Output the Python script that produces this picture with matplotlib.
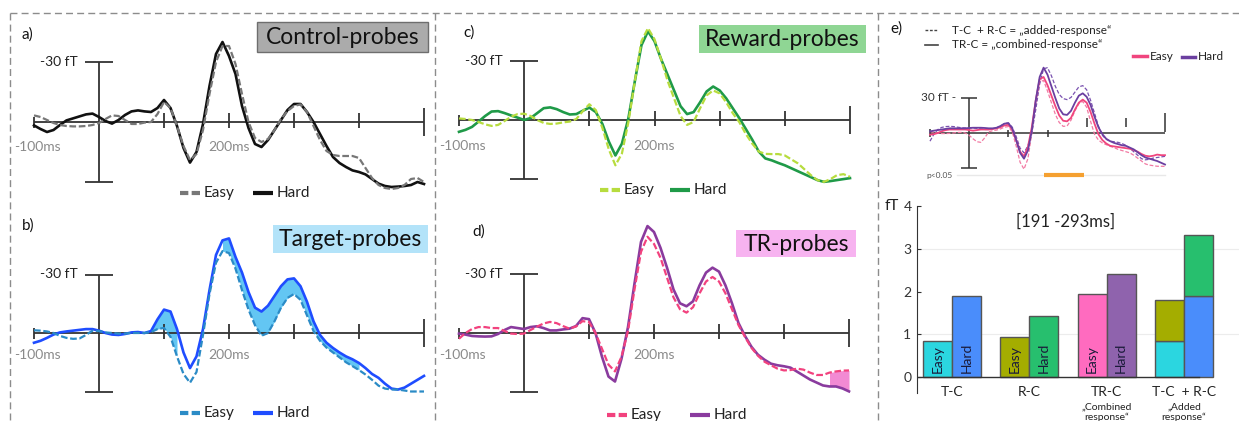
import numpy as np
import matplotlib.pyplot as plt
from matplotlib.patches import Rectangle

plt.rcParams['font.family'] = ['Lato', 'DejaVu Sans']

W, H = 1239, 421

# sample times of the averaged fields (ms)
t_ms = np.arange(-100, 501, 10)

# field amplitudes in fT, negative plotted upwards
ctrl_easy = [-3.3, -2.5, -1, 0.5, 1.5, 2, 2.2, 2.2, 2, 1.5,
             0.5, -1.5, -3.3, -3, -1, 1, 1, 0.3, 0, -4,
             -10, -7, 2, 12, 19, 16, 4, -14, -30, -38,
             -38, -29, -14, 0, 8, 10, 8.5, 4, -1.5, -5.5,
             -8, -8.8, -5, 2, 9, 14.5, 16.5, 17, 17, 17,
             18, 23, 28, 31.5, 33, 33.5, 33, 31.5, 28.5, 28,
             30]
ctrl_hard = [1.7, 3.5, 5, 4, 1.5, -0.8, -1.8, -2.8, -3.8, -4.2,
             -2.5, -0.5, 0.8, -1, -3.5, -5.3, -5.8, -5.3, -5, -7,
             -11, -7, 2, 13, 20.3, 15, 1, -18, -34, -40,
             -33, -24, -8, 3, 11, 12.5, 9, 4, -1, -6,
             -9, -9, -5, 0, 6, 12, 17.5, 20.5, 22.5, 24.2,
             25, 26.2, 28.5, 30.8, 32, 32.5, 32.3, 32, 31.5, 30,
             31]

tgt_easy = [-1.4, -1.2, -0.8, 0, 1.5, 2.5, 3, 2.8, 1, -1.2,
            -1, -0.3, 0, 0.3, 0.3, 0, 0, 0, -0.5, -2,
            -2.6, 2, 12, 21, 25.5, 20, 1, -20, -36, -42,
            -41, -33, -22, -12, -4, 1.4, 0, -6, -13, -18,
            -20, -17, -9, -1, 4, 7.5, 10, 12.5, 15, 17,
            19, 21.3, 24, 27, 28.5, 29, 29, 29.5, 30, 30,
            30]
tgt_hard = [5, 4, 2.5, 0.8, -0.3, -0.8, -1.2, -1.6, -2, -2,
            -1.2, 0, 0.8, 1, 0.5, -0.3, -0.5, 0, -1, -7,
            -12, -11, -2, 10, 18, 12, -2, -22, -40, -47.5,
            -48.5, -39, -31, -21, -13, -11, -14, -19, -24, -27.5,
            -28, -24, -16, -6, 1, 5, 7.7, 10, 12, 13.5,
            15.4, 18, 21, 23, 26, 28.5, 29, 28, 26, 24,
            22]

rew_easy = [-0.8, -0.5, 0, 1, 2.2, 3, 2.5, 0.5, -1.7, -3,
            -3.2, -2, 0, 1.5, 2, 1.8, 1.2, 0.8, -0.5, -4.5,
            -8, -5, 4, 15, 23, 17, 1, -20, -40, -46.6,
            -41, -31, -20, -11, -2, 2.5, 1, -6, -12.5, -15,
            -13.5, -9, -3.5, 1, 7, 12, 16, 17.2, 17.3, 17.3,
            18, 20, 22, 25, 28, 30.5, 31.4, 30, 28, 27.5,
            28.8]
rew_hard = [6, 5, 3.5, 0.8, -2, -4.3, -4.5, -3.5, -2.3, -1.2,
            0, -1, -3.5, -6, -6.4, -5.5, -4, -2.8, -3, -4.7,
            -6.3, -4, 2, 11, 18, 12, -1, -20, -38, -45,
            -40, -31, -23, -15, -7, -3, -4, -9, -14.5, -17,
            -15, -11, -6, -1, 4.5, 10, 16, 19.5, 20.5, 21.8,
            23, 24.5, 26, 27.5, 29, 30.5, 31.4, 31, 30.5, 30,
            29.5]

tr_easy = [2.9, 0, -2, -3, -3, -2.5, -2.5, -1, 0.3, 0.5,
           0.3, -1.5, -3.2, -4.8, -5.6, -5, -3.5, -2.2, -3.3, -6,
           -5.5, 0, 8, 16, 19.4, 12, -1, -22, -41, -48.6,
           -45, -38, -28, -18, -12, -10.3, -13, -20, -26, -28.3,
           -26, -20, -12, -4, 2, 7.5, 11.5, 14.5, 16.3, 18,
           18.9, 18.7, 18, 18.5, 20, 21.2, 21.2, 20, 19.4, 19,
           18.9]
tr_hard = [0.3, 0.8, 1.5, 1.7, 1.8, 1.7, 0.5, -1.5, -3, -2.5,
           -2, -3, -3.4, -2.5, -1.3, -1.3, -1.8, -2.2, -3.5, -7.5,
           -7, 0, 12, 22, 24.5, 13, -3, -25, -46, -54,
           -51, -43, -33, -22, -15, -13.5, -16, -24, -30.5, -33,
           -31, -24, -15, -5, 1.5, 7, 11, 13.5, 15.5, 16.3,
           16.8, 17.5, 19.5, 21.5, 23.5, 25, 26.5, 27, 27, 28,
           29.5]

# e) combined (TR-C) vs added (T-C + R-C) responses
comb_easy = [1.4, 1, 0, -1.5, -2.5, -3, -3, -3, -3, -3,
             -2.5, -2, -2.5, -3, -3, -3, -3.5, -4, -5, -6.5,
             -7, -3, 6, 16, 20, 12, -5, -28, -46, -48,
             -41, -32, -23, -15, -10.5, -10, -13, -20, -26, -28.6,
             -26, -18, -8, 1, 6, 9, 11, 11.5, 12, 12.5,
             13, 13.5, 14.5, 16, 18, 19.5, 20, 19.5, 18.5, 19,
             19]
comb_hard = [-1.4, -2, -2.5, -3, -3.5, -4, -4, -4, -4, -4,
             -4.3, -4.5, -4.5, -4.5, -4.3, -4, -4, -4.5, -6, -8,
             -8.5, -4, 6, 17, 22, 15, -2, -28, -48, -56,
             -50, -40, -30, -21, -16, -15.5, -19, -26, -32, -34,
             -31, -24, -14, -5, 1, 5, 7, 8.5, 9.5, 10.5,
             11, 12.5, 14, 16.5, 19, 21, 22, 23, 24, 25.5,
             27]
added_easy = [-1.4, -0.5, 0, 0.5, 0.5, 0.3, 0, -0.5, -0.5, 0,
              2, 5, 7.5, 8, 4, -1, -2, -2.5, -3.5, -5,
              -5.5, -1, 11, 25, 31, 22, 0, -26, -44, -45,
              -36, -26, -16, -9, -5.7, -6, -11, -19, -25, -27,
              -22, -10, 1, 6, 8.5, 10, 11.4, 12.5, 14, 15,
              16, 17, 19, 21.5, 24, 26.5, 27.5, 28, 28.5, 28.5,
              28.6]
added_hard = [7, 1, -3, -4.8, -5.5, -5.7, -5.5, -5, -4.5, -4.3,
              -4.3, -4.3, -4, -3.5, -3, -3, -3.5, -4.5, -6, -8,
              -8.6, -5, 3, 13, 17, 11, 0, -20, -42, -55,
              -56, -49, -40, -33, -29.5, -28.6, -30.5, -35, -39.5, -40.6,
              -37, -28, -17, -6, 2, 5.5, 7, 7.5, 8, 9,
              10.5, 13, 16, 19, 22, 23, 22.5, 21.5, 21, 20.5,
              20]
sig_window = (191, 293)

# mean amplitude in the significant window (fT)
groups = ['T-C', 'R-C', 'TR-C', 'T-C  + R-C']
group_notes = ['', '', '\u201eCombined\nresponse\u201c', '\u201eAdded\nresponse\u201c']
tc_vals = [0.85, 1.9]      # easy, hard
rc_vals = [0.95, 1.42]
trc_vals = [1.95, 2.42]

fig = plt.figure(figsize=(W / 100, H / 100), dpi=100)

# page layer in pixel units
bg = fig.add_axes([0, 0, 1, 1])
bg.set_xlim(0, W)
bg.set_ylim(H, 0)
bg.set_axis_off()

frame = dict(color='#8c8c8c', lw=1, ls=(0, (5, 3)))
bg.plot([10, W], [13, 13], **frame)
for x in (10, 435, 878):
    bg.plot([x, x], [13, H], **frame)

for x, y, s in [(22, 35, 'a)'), (22, 226, 'b)'), (463, 33, 'c)'),
                (472, 232, 'd)'), (890, 29, 'e)')]:
    bg.text(x, y, s, fontsize=11, ha='left', va='center', color='#111')


def title_box(x0, y0, x1, y1, label, fc, ec='none'):
    bg.add_patch(Rectangle((x0, y0), x1 - x0, y1 - y0, fc=fc, ec=ec, lw=1))
    bg.text((x0 + x1) / 2, (y0 + y1) / 2 + 1, label, ha='center', va='center',
            fontsize=16.5, color='#111')


title_box(257, 22, 428, 52, 'Control-probes', '#ababab', '#6e6e6e')
title_box(273, 225, 428, 253, 'Target-probes', '#b3e3f9')
title_box(699, 25, 866, 53, 'Reward-probes', '#8fd694')
title_box(736, 230, 856, 257, 'TR-probes', '#f7b3f0')


def legend_item(x, y, color, dashed, label, lw=3):
    ls = (0, (2, 0.8)) if dashed else '-'
    bg.plot([x, x + 20], [y, y], color=color, lw=lw, ls=ls, solid_capstyle='butt')
    bg.text(x + 24, y, label, fontsize=11, ha='left', va='center', color='#222')


legend_item(180, 193, '#777777', True, 'Easy')
legend_item(253, 193, '#111111', False, 'Hard')
legend_item(180, 413, '#2b8bc6', True, 'Easy')
legend_item(253, 413, '#1f4dff', False, 'Hard')
legend_item(600, 190, '#b7dc3e', True, 'Easy')
legend_item(670, 190, '#1f9a48', False, 'Hard')
legend_item(607, 415, '#f2427e', True, 'Easy')
legend_item(690, 415, '#8a3b9e', False, 'Hard')


def wave_panel(x_left, x_right, y_base, px_ft, half=125):
    ax = fig.add_axes([x_left / W, 1 - (y_base + half) / H,
                       (x_right - x_left) / W, 2 * half / H])
    ax.set_xlim(-100, 500)
    ax.set_ylim(half / px_ft, -half / px_ft)
    ax.set_axis_off()
    return ax


def wave_frame(ax, label_y=12.5):
    k = dict(color='#333333', lw=1.3, solid_capstyle='butt', clip_on=False)
    ax.plot([-100, 500], [0, 0], **k)
    ax.plot([-100, -100], [-2.5, 3], **k)
    for tk in (100, 200, 300, 400):
        ax.plot([tk, tk], [-4.5, 3], **k)
    ax.plot([500, 500], [-7, 7], **k)
    ax.plot([0, 0], [-30, 30], **k)
    ax.plot([-21, 21], [-30, -30], **k)
    ax.plot([-21, 21], [30, 30], **k)
    ax.text(-33, -30, '-30 fT', ha='right', va='center', fontsize=10, color='#222')
    ax.text(-94, label_y, '-100ms', ha='center', va='center', fontsize=10, color='#8a8a8a')
    ax.text(200, label_y, '200ms', ha='center', va='center', fontsize=10, color='#8a8a8a')


def draw_pair(ax, easy, hard, c_easy, c_hard):
    ax.plot(t_ms, hard, color=c_hard, lw=1.9, solid_joinstyle='round', clip_on=False)
    ax.plot(t_ms, easy, color=c_easy, lw=1.6, ls=(0, (3, 1.2)), clip_on=False)


# a) control
ax_a = wave_panel(34, 424, 122, 2.0)
wave_frame(ax_a)
draw_pair(ax_a, ctrl_easy, ctrl_hard, '#777777', '#111111')

# b) target, shaded where the conditions differ
ax_b = wave_panel(34, 424, 333, 1.95)
wave_frame(ax_b, 11.5)
tb = np.asarray(t_ms)
for lo, hi in [(80, 120), (190, 400)]:
    ax_b.fill_between(tb, tgt_easy, tgt_hard, where=(tb >= lo) & (tb <= hi),
                      color='#63c6f3', lw=0, zorder=1)
draw_pair(ax_b, tgt_easy, tgt_hard, '#2b8bc6', '#1f4dff')

# c) reward
ax_c = wave_panel(459, 850, 120, 1.97)
wave_frame(ax_c, 13)
draw_pair(ax_c, rew_easy, rew_hard, '#b7dc3e', '#1f9a48')

# d) target + reward
ax_d = wave_panel(459, 849, 333, 1.98)
wave_frame(ax_d, 11)
ax_d.fill_between(tb, tr_easy, tr_hard, where=tb >= 470, color='#f28ad3', lw=0, zorder=1)
draw_pair(ax_d, tr_easy, tr_hard, '#f2427e', '#8a3b9e')

# e) difference waves
ax_e = wave_panel(930, 1165, 133, 1.167, half=60)
k = dict(color='#333333', lw=1.1, solid_capstyle='butt', clip_on=False)
ax_e.plot([-100, 500], [0, 0], **k)
ax_e.plot([-100, -100], [-3.4, 3.4], **k)
for tk in (100, 200):
    ax_e.plot([tk, tk], [-2.6, 3.4], **k)
for tk in (300, 400):
    ax_e.plot([tk, tk], [-12.9, -5.1], **k)
ax_e.plot([500, 500], [-17, -1], **k)
ax_e.plot([0, 0], [-30, 30], **k)
ax_e.plot([-20, 20], [-30, -30], **k)
ax_e.plot([-20, 20], [30, 30], **k)
ax_e.text(-33, -30, '30 fT -', ha='right', va='center', fontsize=8.5, color='#333')
ax_e.text(-108, 36, 'p<0.05', ha='left', va='center', fontsize=6, color='#555')
ax_e.plot([-30, 500], [36, 36], color='#e8e8e8', lw=1, clip_on=False)
ax_e.plot(sig_window, [36, 36], color='#f5a030', lw=3, solid_capstyle='butt', clip_on=False)
ax_e.plot(t_ms, added_easy, color='#f27aa3', lw=0.9, ls=(0, (3, 1.5)), clip_on=False)
ax_e.plot(t_ms, added_hard, color='#7a52b0', lw=0.9, ls=(0, (3, 1.5)), clip_on=False)
ax_e.plot(t_ms, comb_easy, color='#f0457e', lw=1.3, clip_on=False)
ax_e.plot(t_ms, comb_hard, color='#6b3fa0', lw=1.3, clip_on=False)

bg.plot([925, 938], [30, 30], color='#444', lw=1, ls=(0, (2, 1.2)))
bg.text(952, 30, 'T-C  + R-C = \u201eadded-response\u201c', fontsize=8.5, va='center', color='#222')
bg.plot([925, 938], [45, 45], color='#444', lw=1.2)
bg.text(952, 45, 'TR-C = \u201ecombined-response\u201c', fontsize=8.5, va='center', color='#222')
bg.plot([1133, 1147], [56, 56], color='#f0457e', lw=2.5)
bg.text(1150, 56, 'Easy', fontsize=8.5, va='center', color='#222')
bg.plot([1182, 1195], [57, 57], color='#6b3fa0', lw=2.5)
bg.text(1198, 57, 'Hard', fontsize=8.5, va='center', color='#222')

# e) bar chart of mean amplitudes
ax_bar = fig.add_axes([917 / W, 1 - 393 / H, (W - 917) / W, (393 - 206) / H])
ax_bar.set_xlim(-0.453, 3.71)
ax_bar.set_ylim(-0.37, 4.0)
for s in ('top', 'right', 'bottom'):
    ax_bar.spines[s].set_visible(False)
ax_bar.spines['left'].set_color('#333333')
ax_bar.set_xticks([])
ax_bar.set_yticks([0, 1, 2, 3, 4])
ax_bar.tick_params(axis='y', direction='in', length=3, labelsize=10, pad=4, colors='#333333')
for v in (1, 3):
    ax_bar.axhline(v, color='#ececec', lw=0.8, zorder=0)
ax_bar.plot([-0.453, 3.19], [0, 0], color='#333333', lw=1, zorder=3)

bw = 0.375
c_tc = ['#2bd6e0', '#4a8dfb']
c_rc = ['#a4ad00', '#27bf6e']
c_trc = ['#ff6bbf', '#8f63ad']
edge = dict(edgecolor='#555555', linewidth=1, zorder=2)
for i, (vals, cols) in enumerate([(tc_vals, c_tc), (rc_vals, c_rc), (trc_vals, c_trc)]):
    for j in range(2):
        x = i + (j - 0.5) * bw
        ax_bar.bar(x, vals[j], bw, color=cols[j], **edge)
        ax_bar.text(x, 0.1, ['Easy', 'Hard'][j], rotation=90, ha='center', va='bottom',
                    fontsize=10, color='#1b1b3a', zorder=4)
# added response: T-C stacked under R-C
for j in range(2):
    x = 3 + (j - 0.5) * bw
    ax_bar.bar(x, tc_vals[j], bw, color=c_tc[j], **edge)
    ax_bar.bar(x, rc_vals[j], bw, bottom=tc_vals[j], color=c_rc[j], **edge)

for i, (g, note) in enumerate(zip(groups, group_notes)):
    ax_bar.text(i, -0.35, g, ha='center', va='center', fontsize=10, color='#222', clip_on=False)
    if note:
        ax_bar.text(i, -0.58, note, ha='center', va='top', fontsize=7.5, color='#222',
                    linespacing=1.2, clip_on=False)
ax_bar.text(1.47, 3.63, '[191 -293ms]', ha='center', va='center', fontsize=12, color='#222')
bg.text(892, 206, 'fT', fontsize=11, ha='center', va='center', color='#222')

fig.savefig('out.png', dpi=100)
